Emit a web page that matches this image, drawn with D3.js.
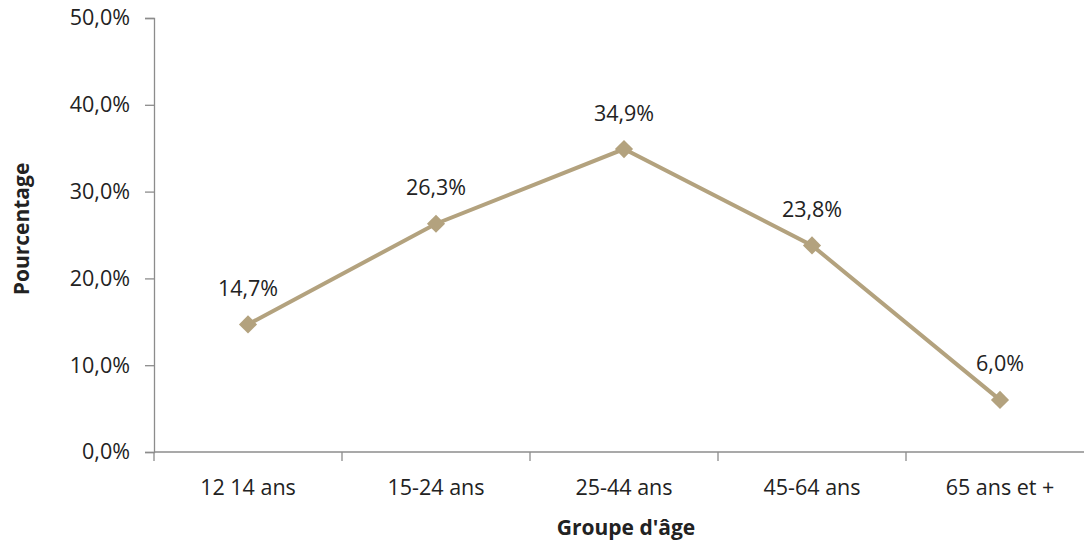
<!DOCTYPE html>
<html>
<head>
<meta charset="utf-8">
<script src="https://cdn.jsdelivr.net/npm/d3@7"></script>
<style>
  html, body { margin: 0; padding: 0; background: #fff; }
  svg { display: block; }
  text { font-family: "Open Sans", "Liberation Sans", sans-serif; fill: #222; }
</style>
</head>
<body>
<svg id="chart" width="1084" height="542"></svg>
<script>
// Share of each age group, in percent
const categories = ["12 14 ans", "15-24 ans", "25-44 ans", "45-64 ans", "65 ans et +"];
const values = [14.7, 26.3, 34.9, 23.8, 6.0];
const yTicks = [0, 10, 20, 30, 40, 50];

const svg = d3.select("#chart");
const margin = { left: 154, top: 18, right: -10, bottom: 90 };
const width = 1084, height = 542;

const x = d3.scaleBand()
  .domain(categories)
  .range([margin.left, width - margin.right])
  .paddingInner(0).paddingOuter(0);

const y = d3.scaleLinear()
  .domain([0, 50])
  .range([height - margin.bottom, margin.top]);

const fmt = v => d3.format(".1f")(v).replace(".", ",") + "%";
const axisColor = "#8c8c8c";
const lineColor = "#b3a27e";
const fontSize = "21.5px";

// Y axis
const yAxis = svg.append("g")
  .attr("transform", `translate(${margin.left},0)`)
  .call(d3.axisLeft(y).tickValues(yTicks).tickSize(9).tickPadding(15).tickFormat(fmt));
yAxis.select(".domain").attr("stroke", axisColor).attr("stroke-width", 1.3);
yAxis.selectAll(".tick line").attr("stroke", axisColor).attr("stroke-width", 1.3);
yAxis.selectAll(".tick text").style("font-size", fontSize).attr("fill", "#222")
  .style("font-family", "'Open Sans', sans-serif");

// X axis with ticks at category boundaries
const yBase = y(0);
const xAxisG = svg.append("g");
xAxisG.append("line")
  .attr("x1", margin.left).attr("x2", width)
  .attr("y1", yBase).attr("y2", yBase)
  .attr("stroke", axisColor).attr("stroke-width", 1.3);
const boundaries = categories.map(c => x(c)).concat([x(categories[categories.length - 1]) + x.bandwidth()]);
xAxisG.selectAll("line.tk").data(boundaries).enter().append("line")
  .attr("class", "tk")
  .attr("x1", d => d).attr("x2", d => d)
  .attr("y1", yBase).attr("y2", yBase + 9)
  .attr("stroke", axisColor).attr("stroke-width", 1.3);
xAxisG.selectAll("text").data(categories).enter().append("text")
  .attr("x", d => x(d) + x.bandwidth() / 2)
  .attr("y", yBase + 43)
  .attr("text-anchor", "middle")
  .style("font-size", fontSize)
  .text(d => d);

// Axis titles
svg.append("text")
  .attr("transform", `translate(29,${(y(0) + y(50)) / 2 - 6}) rotate(-90)`)
  .attr("text-anchor", "middle")
  .style("font-size", "21px").style("font-weight", "bold")
  .text("Pourcentage");
svg.append("text")
  .attr("x", 626)
  .attr("y", 535)
  .attr("text-anchor", "middle")
  .style("font-size", "21px").style("font-weight", "bold")
  .text("Groupe d'âge");

// Series line
const pts = categories.map((c, i) => ({ c, v: values[i] }));
const cx = d => x(d.c) + x.bandwidth() / 2;
svg.append("path")
  .datum(pts)
  .attr("fill", "none")
  .attr("stroke", lineColor)
  .attr("stroke-width", 4)
  .attr("d", d3.line().x(cx).y(d => y(d.v)));

// Diamond markers
svg.selectAll("path.mk").data(pts).enter().append("path")
  .attr("class", "mk")
  .attr("transform", d => `translate(${cx(d)},${y(d.v)})`)
  .attr("d", d3.symbol().type(d3.symbolDiamond2).size(210))
  .attr("fill", lineColor);

// Value labels
svg.selectAll("text.lbl").data(pts).enter().append("text")
  .attr("class", "lbl")
  .attr("x", cx)
  .attr("y", d => y(d.v) - 28.5)
  .attr("text-anchor", "middle")
  .style("font-size", fontSize)
  .text(d => fmt(d.v));
</script>
</body>
</html>
